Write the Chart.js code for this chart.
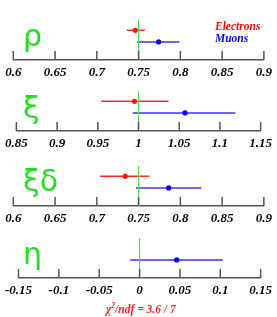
<!DOCTYPE html>
<html>
<head>
<meta charset="utf-8">
<script src="https://cdn.jsdelivr.net/npm/chart.js@4.4.1/dist/chart.umd.min.js"></script>
<style>
    body { margin: 0; background: #fff; width: 277px; height: 317px; position: relative; overflow: hidden; }
    canvas { position: absolute; left: 0; }
    .sym { position: absolute; left: 23px; color: #1ee01e; font-family: "DejaVu Sans", sans-serif; font-size: 30px; line-height: 30px; }
    .leg { position: absolute; left: 215px; font: italic bold 11.5px "Liberation Serif", serif; line-height: 11px; }
    #chi2 { position: absolute; left: 106px; top: 304px; color: #ff2020; font: italic bold 11.5px "Liberation Serif", serif; line-height: 11px; white-space: nowrap; }
    #chi2 sup { font-size: 7.5px; vertical-align: 5px; line-height: 0; }
</style>
</head>
<body>
<canvas id="c0" width="277" height="72"></canvas>
<canvas id="c1" width="277" height="72"></canvas>
<canvas id="c2" width="277" height="72"></canvas>
<canvas id="c3" width="277" height="72"></canvas>
<div class="sym" id="s0"></div>
<div class="sym" id="s1"></div>
<div class="sym" id="s2"></div>
<div class="sym" id="s3"></div>
<div class="leg" style="top:21px;color:#ff0000">Electrons</div>
<div class="leg" style="top:33px;color:#0000ff">Muons</div>
<div id="chi2">χ<sup>2</sup>/ndf = 3.6 / 7</div>
<script>
// parameters and their Standard Model values
const params = ["ρ", "ξ", "ξδ", "η"];
const smValues = [0.75, 1, 0.75, 0];

// electron results (no eta measurement)
const eleValue = [0.746, 0.995, 0.734, null];
const eleLow = [0.736, 0.954, 0.704, null];
const eleHigh = [0.7575, 1.037, 0.763, null];

// muon results
const muValue = [0.774, 1.057, 0.786, 0.046];
const muLow = [0.748, 0.993, 0.747, -0.0115];
const muHigh = [0.799, 1.119, 0.825, 0.103];

const axisTicks = [
    [0.6, 0.65, 0.7, 0.75, 0.8, 0.85, 0.9],
    [0.85, 0.9, 0.95, 1, 1.05, 1.1, 1.15],
    [0.6, 0.65, 0.7, 0.75, 0.8, 0.85, 0.9],
    [-0.15, -0.1, -0.05, 0, 0.05, 0.1, 0.15]
];

// layout
const axisY = [60, 131, 206, 278];
const symTop = [21, 93, 166, 239];
const ROW_E = 2, ROW_MU = 1, Y_MIN = -0.57, Y_MAX = 2.9;
const AXIS_COLOR = "#555";

const upTicks = {
    id: "upTicks",
    afterDraw(chart) {
        const s = chart.scales.x, ctx = chart.ctx;
        ctx.save();
        ctx.strokeStyle = AXIS_COLOR;
        ctx.lineWidth = 1.5;
        s.ticks.forEach(t => {
            const x = s.getPixelForValue(t.value);
            ctx.beginPath();
            ctx.moveTo(x, s.top);
            ctx.lineTo(x, s.top - 9);
            ctx.stroke();
        });
        ctx.restore();
    }
};

function bar(lo, hi, row, color) {
    return { data: [{ x: lo, y: row }, { x: hi, y: row }], showLine: true, borderColor: color, borderWidth: 1.5, pointRadius: 0 };
}
function dot(v, row, color) {
    return { data: [{ x: v, y: row }], pointRadius: 2.6, backgroundColor: color, borderColor: color, borderWidth: 0 };
}

params.forEach((p, i) => {
    document.getElementById("s" + i).textContent = p;
    document.getElementById("s" + i).style.top = symTop[i] + "px";
    const cv = document.getElementById("c" + i);
    cv.style.top = (axisY[i] - 42) + "px";

    const datasets = [{
        data: [{ x: smValues[i], y: Y_MIN }, { x: smValues[i], y: Y_MAX }],
        showLine: true, borderColor: "#55dd55", borderWidth: 1.2, pointRadius: 0
    }];
    if (eleValue[i] !== null) {
        datasets.push(dot(eleValue[i], ROW_E, "#ff1010"));
        datasets.push(bar(eleLow[i], eleHigh[i], ROW_E, "#ff2a2a"));
    }
    datasets.push(dot(muValue[i], ROW_MU, "#0000ff"));
    datasets.push(bar(muLow[i], muHigh[i], ROW_MU, "#3333ff"));

    const ticks = axisTicks[i];
    new Chart(cv.getContext("2d"), {
        type: "scatter",
        data: { datasets },
        options: {
            responsive: false,
            animation: false,
            events: [],
            layout: { autoPadding: false, padding: { top: 2, left: 13.3, right: 11.3, bottom: 0 } },
            plugins: { legend: { display: false }, tooltip: { enabled: false } },
            scales: {
                x: {
                    type: "linear",
                    min: ticks[0],
                    max: ticks[ticks.length - 1],
                    afterBuildTicks: s => { s.ticks = ticks.map(v => ({ value: v })); },
                    afterFit: s => { s.height = 30; },
                    grid: { display: false, drawTicks: false },
                    border: { display: true, color: AXIS_COLOR, width: 1.5 },
                    ticks: {
                        color: "#000",
                        padding: 5,
                        maxRotation: 0,
                        autoSkip: false,
                        font: { family: "Liberation Serif", size: 13, style: "italic", weight: "bold" },
                        callback: v => String(v)
                    }
                },
                y: { display: false, min: Y_MIN, max: Y_MAX }
            }
        },
        plugins: [upTicks]
    });
});
</script>
</body>
</html>
